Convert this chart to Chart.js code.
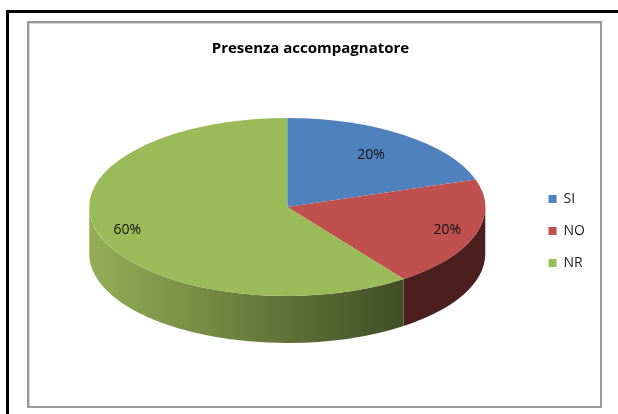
<!DOCTYPE html>
<html>
<head>
<meta charset="utf-8">
<script src="https://cdn.jsdelivr.net/npm/chart.js@4/dist/chart.umd.min.js"></script>
<style>
  html, body { margin:0; padding:0; background:#fff; }
  #page { position:relative; width:618px; height:414px; overflow:hidden; }
  #frameTop { position:absolute; left:6px; top:10px; width:620px; height:3px; background:#000; }
  #frameLeft { position:absolute; left:6px; top:10px; width:3px; height:420px; background:#000; }
  #box { position:absolute; left:27px; top:21px; width:571px; height:383px;
         border:2px solid #9a9a9a; box-shadow: inset 1px 1px 0 #d8d8d8; }
  #chart { position:absolute; left:0; top:0; }
</style>
</head>
<body>
<div id="page">
  <div id="frameTop"></div>
  <div id="frameLeft"></div>
  <div id="box"></div>
  <canvas id="chart" width="618" height="414"></canvas>
</div>

<script>

/* =========================================
   Data
========================================= */

const categories = ["SI", "NO", "NR"];
const values = [20, 20, 60];

const topColors = ["#4F81BD", "#C0504D", "#9BBB59"];

// side wall gradient: [left, right]
const sideColors = [
    ["#2E4D73", "#243D5C"],
    ["#5C2522", "#4B1F1D"],
    ["#93AE57", "#3E4A22"]
];


/* =========================================
   Tilted 3D pie plugin
========================================= */

const tiltedPie = {

    id: "tiltedPie",

    _geom(chart, opts){
        const arc = chart.getDatasetMeta(0).data[0];
        const p = arc.getProps(["x", "y", "outerRadius"], true);
        return {
            x: p.x,
            y: p.y,
            R: p.outerRadius,
            cx: p.x + opts.shiftX,
            cy: p.y + opts.shiftY,
            rx: opts.rx,
            ry: opts.ry
        };
    },

    beforeDatasetsDraw(chart, args, opts){

        const ctx = chart.ctx;
        const g = this._geom(chart, opts);
        const arcs = chart.getDatasetMeta(0).data;

        // side walls, only the front half is visible
        arcs.forEach((arc, i) => {
            const a = arc.getProps(["startAngle", "endAngle"], true);
            const a0 = Math.max(a.startAngle, 0);
            const a1 = Math.min(a.endAngle, Math.PI);
            if(a1 <= a0) return;

            const grad = ctx.createLinearGradient(g.cx - g.rx, 0, g.cx + g.rx * 0.65, 0);
            grad.addColorStop(0, sideColors[i][0]);
            grad.addColorStop(1, sideColors[i][1]);

            ctx.save();
            ctx.beginPath();
            ctx.ellipse(g.cx, g.cy, g.rx, g.ry, 0, a0, a1);
            ctx.ellipse(g.cx, g.cy + opts.depth, g.rx, g.ry, 0, a1, a0, true);
            ctx.closePath();
            ctx.fillStyle = grad;
            ctx.fill();
            ctx.restore();
        });

        // squash the top face into an ellipse
        ctx.save();
        ctx.translate(g.cx, g.cy);
        ctx.scale(g.rx / g.R, g.ry / g.R);
        ctx.translate(-g.x, -g.y);
    },

    afterDatasetsDraw(chart, args, opts){

        const ctx = chart.ctx;
        ctx.restore();

        const g = this._geom(chart, opts);
        const arcs = chart.getDatasetMeta(0).data;
        const total = values.reduce((s, v) => s + v, 0);

        ctx.save();
        ctx.font = opts.font;
        ctx.fillStyle = opts.color;
        ctx.textAlign = "center";
        ctx.textBaseline = "middle";

        arcs.forEach((arc, i) => {
            const a = arc.getProps(["startAngle", "endAngle"], true);
            const mid = (a.startAngle + a.endAngle) / 2;
            const r = opts.labelRadius[i];
            const lx = g.cx + Math.cos(mid) * g.rx * r;
            const ly = g.cy + Math.sin(mid) * g.ry * r;
            ctx.fillText(Math.round(values[i] / total * 100) + "%", lx, ly);
        });

        ctx.restore();
    }
};


/* =========================================
   Chart
========================================= */

new Chart(document.getElementById("chart"), {
    type: "pie",
    data: {
        labels: categories,
        datasets: [{
            data: values,
            backgroundColor: topColors,
            borderWidth: 0,
            clip: false
        }]
    },
    options: {
        responsive: false,
        animation: false,
        events: [],
        layout: {
            padding: { top: 40, left: 26, right: 23, bottom: 20 }
        },
        plugins: {
            title: {
                display: true,
                text: "Presenza accompagnatore",
                color: "#000",
                font: { family: "Open Sans", size: 15, weight: "bold", lineHeight: 1.2 },
                padding: { top: 0, bottom: 10 }
            },
            legend: {
                position: "right",
                align: "center",
                fullSize: false,
                labels: {
                    boxWidth: 8,
                    boxHeight: 8,
                    padding: 18,
                    color: "#222",
                    font: { family: "Open Sans", size: 14 }
                }
            },
            tooltip: { enabled: false },
            tiltedPie: {
                shiftX: 9,
                shiftY: -24,
                rx: 198,
                ry: 89,
                depth: 47,
                labelRadius: [0.72, 0.85, 0.85],
                font: "14px 'Open Sans'",
                color: "#111"
            }
        }
    },
    plugins: [tiltedPie]
});

</script>
</body>
</html>
